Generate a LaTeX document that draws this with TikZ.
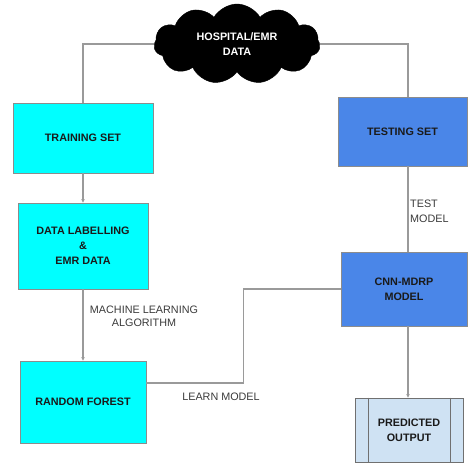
\documentclass[tikz,border=0pt]{standalone}
\usepackage{fontspec}
\setmainfont{Liberation Sans}
\usetikzlibrary{shapes.symbols,arrows.meta,calc}
\definecolor{cyanbox}{HTML}{00FFFF}
\definecolor{bluebox}{HTML}{4A86E8}
\definecolor{lightbox}{HTML}{CFE2F3}
\definecolor{edgegray}{HTML}{8C8C8C}
\definecolor{linegray}{HTML}{9A9A9A}
\definecolor{txt}{HTML}{1A1A1A}
\definecolor{lbl}{HTML}{3A3A3A}
\begin{document}
\begin{tikzpicture}[x=1pt,y=-1pt,
  box/.style={draw=edgegray, line width=0.9pt, align=center, inner sep=0pt,
    font=\fontsize{10.8}{15}\selectfont\bfseries, text=txt},
  cyanstep/.style={box, fill=cyanbox},
  bluestep/.style={box, fill=bluebox},
  lightstep/.style={box, fill=lightbox, draw=edgegray!80!black},
  conn/.style={draw=linegray, line width=1.3pt},
  arr/.style={conn, -{Stealth[length=3.5pt,width=3.5pt]}},
  lab/.style={align=center, inner sep=0pt, text=lbl, font=\fontsize{10.8}{13}\selectfont}
]
\useasboundingbox (0,0) rectangle (468,463);

\node[cloud, cloud puffs=11, cloud puff arc=120, aspect=2.2, fill=black, draw=black,
  minimum width=166pt, minimum height=80pt, inner sep=0pt, align=center, text=white,
  font=\fontsize{10.8}{15}\selectfont\bfseries] (cloud) at (237,44) {HOSPITAL/EMR\\DATA};

\node[cyanstep, minimum width=140pt, minimum height=70pt] (train) at (83,138) {TRAINING SET};
\node[cyanstep, minimum width=130pt, minimum height=86pt] (label) at (83,246) {DATA LABELLING\\\&\\EMR DATA};
\node[cyanstep, minimum width=126pt, minimum height=82pt] (rf) at (83,402) {RANDOM FOREST};

\node[bluestep, minimum width=129pt, minimum height=69pt] (test) at (402.5,131.5) {TESTING SET};
\node[bluestep, minimum width=126pt, minimum height=74pt] (cnn) at (404,289) {CNN-MDRP\\MODEL};
\node[lightstep, minimum width=108pt, minimum height=64pt] (pred) at (409,430) {PREDICTED\\OUTPUT};
\draw[draw=edgegray!80!black, line width=0.9pt] ([xshift=14pt]pred.north west) -- ([xshift=14pt]pred.south west);
\draw[draw=edgegray!80!black, line width=0.9pt] ([xshift=-13pt]pred.north east) -- ([xshift=-13pt]pred.south east);

\coordinate (xr) at (408,0);

\draw[conn] (cloud.west) -| (train.north);
\draw[conn] (cloud.east) -| (test.north -| xr);
\draw[arr] (train.south) -- (label.north);
\draw[arr] (label.south) -- (rf.north);
\draw[conn] ([yshift=19pt]rf.east) -- ++(97,0) |- (cnn.west);
\draw[conn] (test.south -| xr) -- (cnn.north -| xr);
\draw[arr] (cnn.south -| xr) -- (pred.north -| xr);

\node[lab] (ml) at (144,316.5) {MACHINE LEARNING\\ALGORITHM};
\node[lab] (lm) at (221,397) {LEARN MODEL};
\node[lab, align=left, anchor=west, font=\fontsize{10.8}{15}\selectfont] (tm) at (410,211.5) {TEST\\MODEL};
\end{tikzpicture}
\end{document}
